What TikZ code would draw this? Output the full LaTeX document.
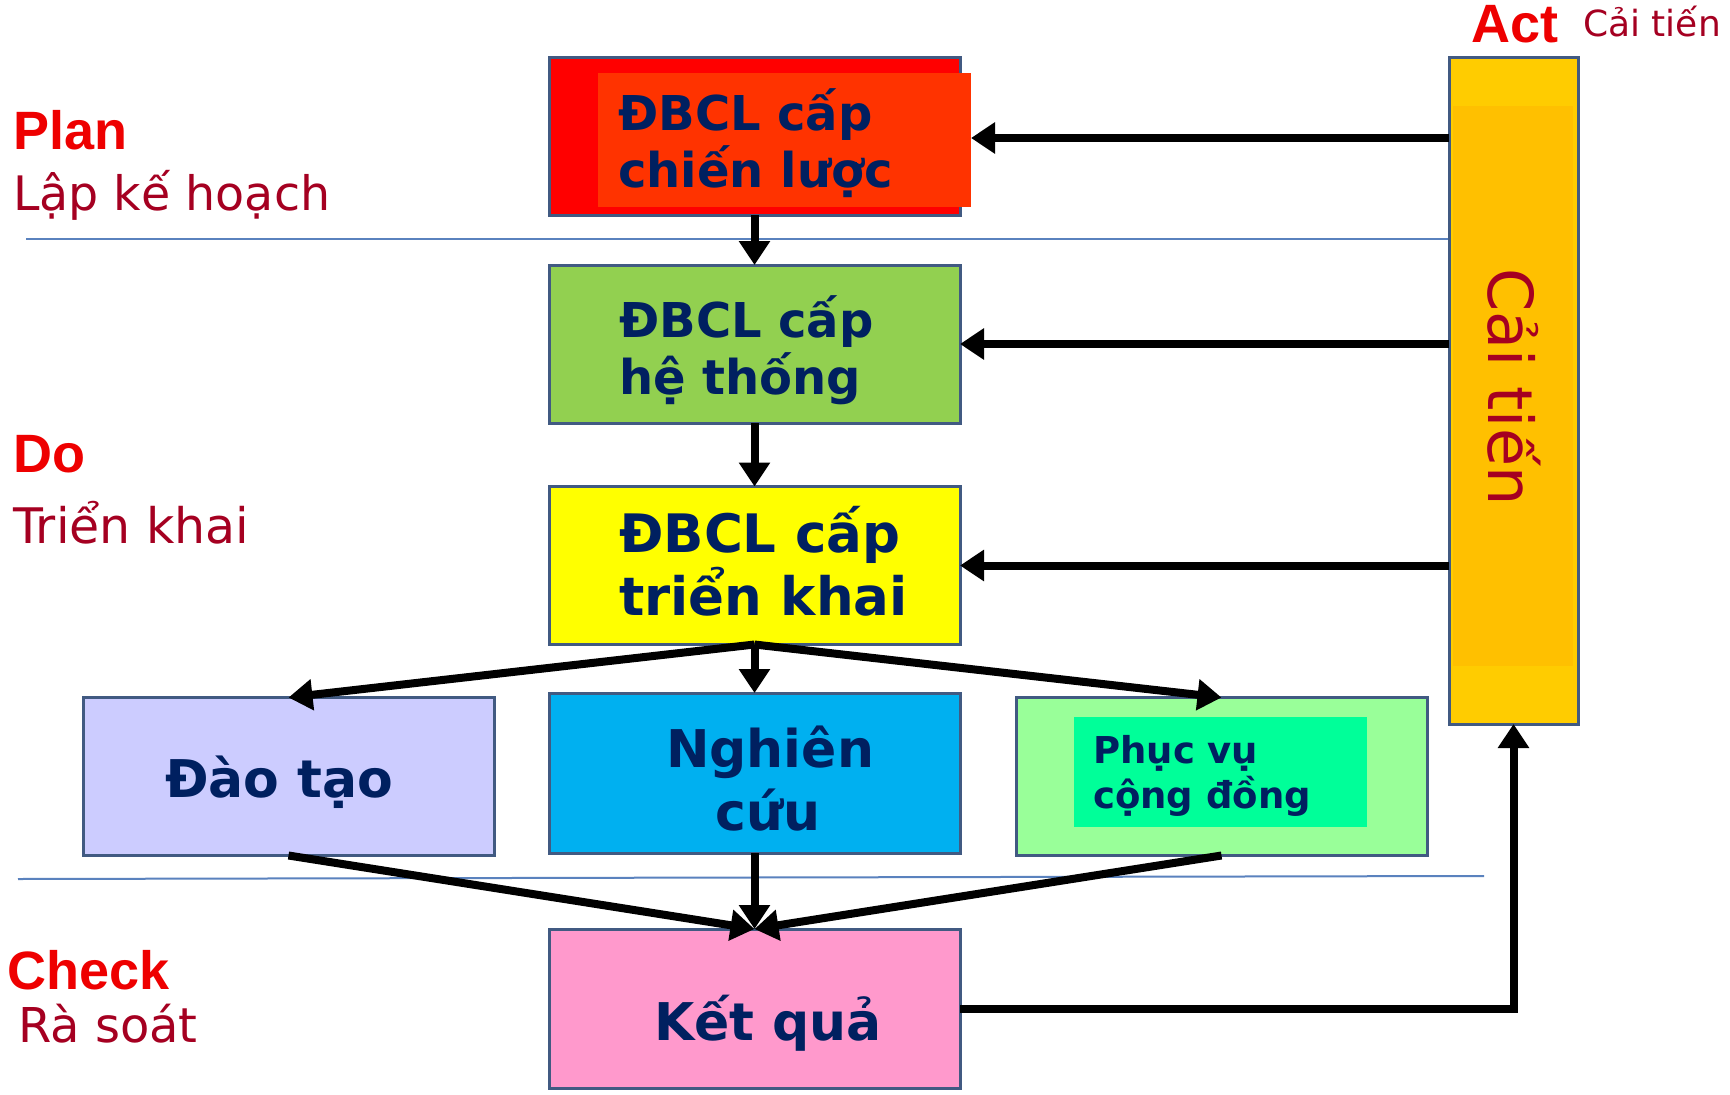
\documentclass[tikz,border=0pt]{standalone}
\usepackage{fontspec}
\newfontfamily\vfont{DejaVu Sans}
\newfontfamily\afont{Liberation Sans}
\usetikzlibrary{arrows.meta}

\definecolor{edgeblue}{RGB}{65,90,130}
\definecolor{rulerblue}{RGB}{90,130,190}
\definecolor{navytext}{RGB}{0,32,96}
\definecolor{phasered}{RGB}{238,0,0}
\definecolor{subred}{RGB}{165,0,33}
\definecolor{stratred}{RGB}{255,0,0}
\definecolor{stratinner}{RGB}{255,51,0}
\definecolor{sysgreen}{RGB}{146,208,80}
\definecolor{deplyellow}{RGB}{255,255,0}
\definecolor{trainlilac}{RGB}{204,204,255}
\definecolor{researchblue}{RGB}{0,176,240}
\definecolor{servicegreen}{RGB}{153,255,153}
\definecolor{serviceinner}{RGB}{0,255,153}
\definecolor{resultpink}{RGB}{255,153,204}
\definecolor{actouter}{RGB}{255,204,0}
\definecolor{actinner}{RGB}{255,192,0}

\tikzset{
  box/.style={draw=edgeblue, line width=3pt, minimum width=411pt,
    minimum height=158pt, inner sep=0pt, outer sep=0pt},
  boxtxt/.style={anchor=base west, inner sep=0pt, text=navytext,
    font=\vfont\bfseries\fontsize{#1}{#1}\selectfont},
  phase/.style={anchor=base west, inner sep=0pt, text=phasered,
    font=\afont\bfseries\fontsize{54}{54}\selectfont},
  phasesub/.style={anchor=base west, inner sep=0pt, text=subred,
    font=\vfont\fontsize{#1}{#1}\selectfont},
  ruler/.style={draw=rulerblue, line width=2pt},
  arr/.style={draw=black, line width=8pt,
    -{Triangle[width=30pt,length=24pt]}}
}

\begin{document}
\begin{tikzpicture}[x=1pt,y=-1pt]
  % canvas
  \fill[white] (0,0) rectangle (1730,1095);
  \useasboundingbox (0,0) rectangle (1730,1095);

  % section rulers
  \draw[ruler] (26,239) -- (1449,239);
  \draw[ruler] (18,879) -- (1484,876);

  % boxes
  \node[box, fill=stratred] (b1) at (754.5,136) {};
  \fill[stratinner] (598,73) rectangle (971,207);
  \coordinate (inner) at (971,138);
  \node[box, fill=sysgreen] (b2) at (754.5,344) {};
  \node[box, fill=deplyellow] (b3) at (754.5,565.5) {};
  \node[box, fill=trainlilac] (dt) at (288.5,776.5) {};
  \node[box, fill=researchblue, minimum height=160pt] (nc) at (754.5,773) {};
  \node[box, fill=servicegreen] (pv) at (1221.5,776.5) {};
  \fill[serviceinner] (1074,717) rectangle (1367,827);
  \node[box, fill=resultpink, minimum height=159pt] (kq) at (754.5,1008.5) {};

  % improvement bar
  \node[draw=edgeblue, line width=3pt, fill=actouter, minimum width=129pt,
    minimum height=667pt, inner sep=0pt, outer sep=0pt] (bar) at (1513.5,390.5) {};
  \fill[actinner] (1453,106) rectangle (1573,666);
  \node[rotate=-90, inner sep=0pt, text=subred,
    font=\vfont\fontsize{62}{62}\selectfont] (bartxt) at (1514,387) {Cải tiến};

  % box texts
  \node[boxtxt=48] (t1a) at (618,130) {ĐBCL cấp};
  \node[boxtxt=48] (t1b) at (618,187) {chiến lược};
  \node[boxtxt=48] (t2a) at (619,337) {ĐBCL cấp};
  \node[boxtxt=48] (t2b) at (619,394) {hệ thống};
  \node[boxtxt=53] (t3a) at (619,552) {ĐBCL cấp};
  \node[boxtxt=53] (t3b) at (619,615) {triển khai};
  \node[boxtxt=52] (tdt) at (165,797) {Đào tạo};
  \node[boxtxt=52] (tnca) at (666,767) {Nghiên};
  \node[boxtxt=52] (tncb) at (715,830) {cứu};
  \node[boxtxt=37] (tpva) at (1093,763) {Phục vụ};
  \node[boxtxt=37] (tpvb) at (1093,808) {cộng đồng};
  \node[boxtxt=52] (tkq) at (654,1040) {Kết quả};

  % phase labels
  \node[phase] (plan) at (13,149) {Plan};
  \node[phasesub=47.5] (plansub) at (13,210) {Lập kế hoạch};
  \node[phase] (do) at (13,472) {Do};
  \node[phasesub=49] (dosub) at (13,543) {Triển khai};
  \node[phase] (check) at (7,989) {Check};
  \node[phasesub=48] (checksub) at (18,1042) {Rà soát};
  \node[phase] (act) at (1471,42) {Act};
  \node[phasesub=36] (actsub) at (1583,36) {Cải tiến};

  % downward flow
  \draw[arr] (b1.south) -- (b2.north);
  \draw[arr] (b2.south) -- (b3.north);
  \draw[arr] (b3.south) -- (dt.north);
  \draw[arr] (b3.south) -- (nc.north);
  \draw[arr] (b3.south) -- (pv.north);
  \draw[arr] (dt.south) -- (kq.north);
  \draw[arr] (nc.south) -- (kq.north);
  \draw[arr] (pv.south) -- (kq.north);

  % feedback loop
  \draw[arr] (kq.east) -| (bar.south);
  \draw[arr] (bar.west |- inner) -- (inner);
  \draw[arr] (bar.west |- b2.east) -- (b2.east);
  \draw[arr] (bar.west |- b3.east) -- (b3.east);
\end{tikzpicture}
\end{document}
